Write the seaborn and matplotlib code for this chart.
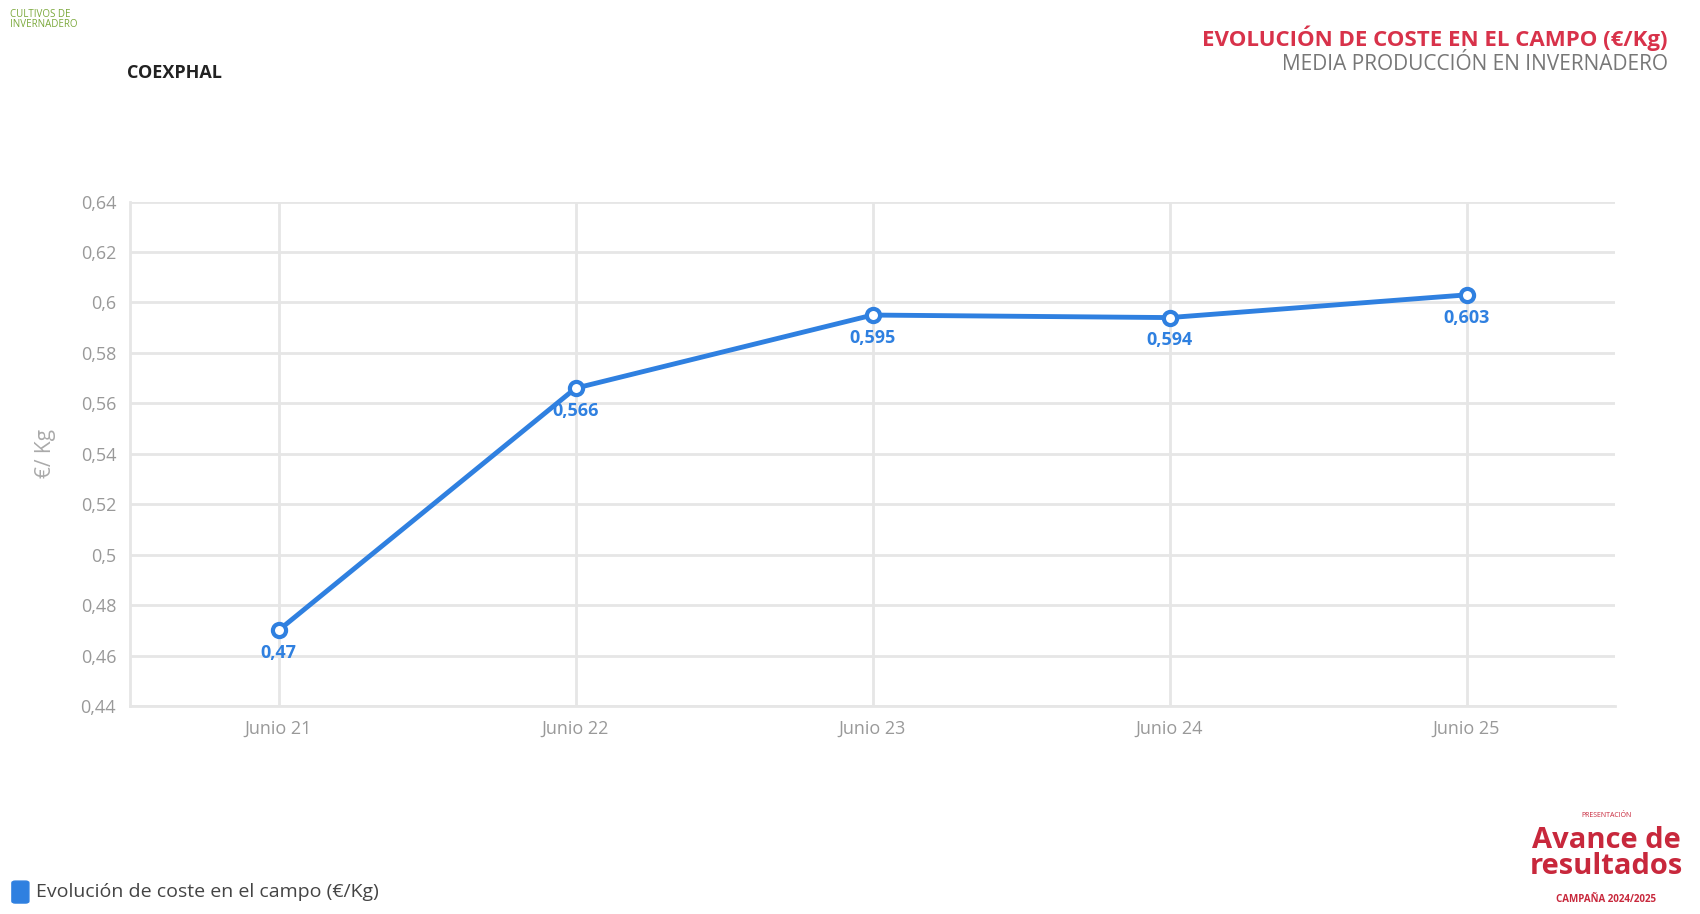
import matplotlib
matplotlib.use("Agg")
import matplotlib.pyplot as plt
import seaborn as sns
import pandas as pd

categories = ["Junio 21", "Junio 22", "Junio 23", "Junio 24", "Junio 25"]
values = [0.47, 0.566, 0.595, 0.594, 0.603]
labels = ["0,47", "0,566", "0,595", "0,594", "0,603"]
yticks = [0.44, 0.46, 0.48, 0.50, 0.52, 0.54, 0.56, 0.58, 0.60, 0.62, 0.64]
ytick_labels = ["0,44", "0,46", "0,48", "0,5", "0,52", "0,54", "0,56", "0,58", "0,6", "0,62", "0,64"]

sns.set_theme(style="white")
plt.rcParams['font.family'] = ['Open Sans', 'DejaVu Sans']

df = pd.DataFrame({"x": range(len(categories)), "y": values})
fig = plt.figure(figsize=(17, 9.14), dpi=100)
ax = fig.add_axes([0.0765, 0.2275, 0.8735, 0.552])
blue = "#2f80e0"
sns.lineplot(data=df, x="x", y="y", ax=ax, color=blue, linewidth=3.5, zorder=3)
ax.scatter(df["x"], df["y"], s=90, facecolor="white", edgecolor=blue, linewidth=3, zorder=4)
for i, (v, l) in enumerate(zip(values, labels)):
    ax.annotate(l, (i, v), xytext=(0, -20), textcoords="offset points", ha="center",
                color=blue, fontsize=13, fontweight="bold", zorder=5)
ax.set_xlim(-0.5, 4.5)
ax.set_ylim(0.44, 0.64)
ax.set_xticks(range(len(categories)))
ax.set_xticklabels(categories, color="#999999", fontsize=13)
ax.set_yticks(yticks)
ax.set_yticklabels(ytick_labels, color="#999999", fontsize=13)
ax.grid(True, color="#e6e6e6", linewidth=2)
for s in ["top", "right"]:
    ax.spines[s].set_visible(False)
for s in ["left", "bottom"]:
    ax.spines[s].set_color("#e6e6e6")
    ax.spines[s].set_linewidth(2)
ax.tick_params(length=0, pad=10)
ax.set_xlabel("")
ax.set_ylabel("€/ Kg", color="#aaaaaa", fontsize=15, labelpad=18)

fig.text(0.981, 0.958, "EVOLUCIÓN DE COSTE EN EL CAMPO (€/Kg)", ha="right", va="center",
         color="#d8324a", fontsize=16, fontweight="bold")
fig.text(0.981, 0.929, "MEDIA PRODUCCIÓN EN INVERNADERO", ha="right", va="center",
         color="#777777", fontsize=15)
fig.text(0.075, 0.92, "COEXPHAL", ha="left", va="center", color="#222222", fontsize=13, fontweight="bold")
fig.text(0.006, 0.99, "CULTIVOS DE\nINVERNADERO", ha="left", va="top", color="#7aa83a", fontsize=7, linespacing=0.9)
fig.text(0.945, 0.066, "Avance de\nresultados", ha="center", va="center", color="#c8283c",
         fontsize=21, fontweight="bold", linespacing=0.85)
fig.text(0.945, 0.016, "CAMPAÑA 2024/2025", ha="center", va="center", color="#c8283c", fontsize=7, fontweight="bold")
fig.text(0.945, 0.108, "PRESENTACIÓN", ha="center", va="center", color="#c8283c", fontsize=5)

fig.patches.append(matplotlib.patches.FancyBboxPatch((0.009, 0.014), 0.006, 0.02, boxstyle="round,pad=0.002",
                   transform=fig.transFigure, color=blue))
fig.text(0.021, 0.024, "Evolución de coste en el campo (€/Kg)", ha="left", va="center", color="#444444", fontsize=14)
fig.savefig("out.png")
